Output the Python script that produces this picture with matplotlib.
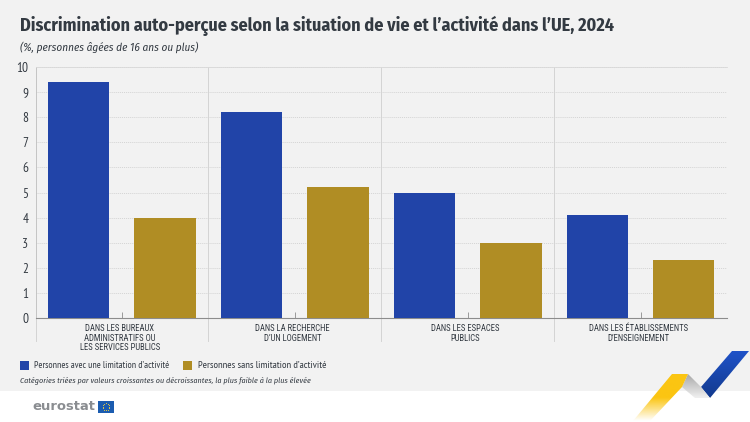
import matplotlib
matplotlib.use('Agg')
import matplotlib.pyplot as plt
import matplotlib.font_manager as fm
from matplotlib.colors import LinearSegmentedColormap
from matplotlib.patches import Polygon, Rectangle
import numpy as np

categories = ['DANS LES BUREAUX\nADMINISTRATIFS OU\nLES SERVICES PUBLICS',
              'DANS LA RECHERCHE\nD\u2019UN LOGEMENT',
              'DANS LES ESPACES\nPUBLICS',
              'DANS LES \u00c9TABLISSEMENTS\nD\u2019ENSEIGNEMENT']
with_limit = [9.4, 8.2, 5.0, 4.1]
without_limit = [4.0, 5.2, 3.0, 2.3]
yticks = list(range(0, 11))

title = 'Discrimination auto-per\u00e7ue selon la situation de vie et l\u2019activit\u00e9 dans l\u2019UE, 2024'
subtitle = '(%, personnes \u00e2g\u00e9es de 16 ans ou plus)'
note = 'Cat\u00e9gories tri\u00e9es par valeurs croissantes ou d\u00e9croissantes, la plus faible \u00e0 la plus \u00e9lev\u00e9e'
label_with = 'Personnes avec une limitation d\u2019activit\u00e9'
label_without = 'Personnes sans limitation d\u2019activit\u00e9'

BLUE = '#2144a8'
GOLD = '#b08d24'
BG = '#f2f2f2'
TEXT = '#333a42'

# condensed faces if there are any, the sizes get fitted below anyway
names = {f.name for f in fm.fontManager.ttflist}


def first_font(options):
    for n in options:
        if n in names:
            return n
    return 'Lato'


main_font = first_font(['Fira Sans Condensed', 'Roboto Condensed', 'PT Sans Narrow'])
small_font = first_font(['PT Sans Narrow', 'Roboto Condensed', 'Fira Sans Condensed'])
cat_font = first_font(['Roboto Condensed', 'Fira Sans Condensed', 'PT Sans Narrow'])
plt.rcParams['font.family'] = [small_font, 'DejaVu Sans']

W, H = 750, 422
fig = plt.figure(figsize=(W / 100, H / 100), dpi=100, facecolor='white')
renderer = fig.canvas.get_renderer()


def fit(txt, width):
    # scale the font so the text is as wide as in the reference
    w = txt.get_window_extent(renderer).width
    txt.set_fontsize(txt.get_fontsize() * width / w)


def ribbon(points, colors, box):
    cmap = LinearSegmentedColormap.from_list('r', colors)
    grad = np.linspace(0, 1, 64).reshape(-1, 1)
    im = bg.imshow(grad, cmap=cmap, extent=box, aspect='auto', zorder=2)
    im.set_clip_path(Polygon(points, transform=bg.transData))


# page background and decorations, in pixel coordinates
bg = fig.add_axes([0, 0, 1, 1])
bg.add_patch(Rectangle((0, 0), W, 391, color=BG, lw=0))

# ribbon logo bottom right
ribbon([(732, 351), (749, 351), (710, 398), (701, 387)], ['#1f52c8', '#123a8e'], (700, 750, 398, 351))
ribbon([(688, 374), (701, 387), (710, 398), (695, 398), (682, 387)], ['#a8a8a8', '#f0f0f0'], (680, 710, 398, 374))
ribbon([(672, 374), (688, 374), (682, 387), (650, 421), (633, 421)], ['#fbc512', '#fbc512', '#ffffff'], (630, 690, 421, 374))

bg.set_xlim(0, W)
bg.set_ylim(H, 0)
bg.axis('off')

# eurostat wordmark and flag
logo = bg.text(32, 407, 'eurostat', family='DejaVu Sans', fontsize=11, fontweight='bold',
               color='#8a8d91', va='center', ha='left')
fit(logo, 63)
bg.add_patch(Rectangle((98, 401), 16, 11.5, color='#1b5cb0', lw=0))
star_a = np.linspace(0, 2 * np.pi, 12, endpoint=False)
bg.scatter(106 + 3.4 * np.cos(star_a), 406.7 + 3.4 * np.sin(star_a), s=0.6, color='#f4d23c', lw=0)

ax = fig.add_axes([35.5 / W, 1 - 318 / H, (727 - 35.5) / W, (318 - 67) / H])
ax.set_facecolor('none')

x = np.arange(len(categories))
ax.bar(x - 0.25, with_limit, 0.355, color=BLUE, zorder=3)
ax.bar(x + 0.25, without_limit, 0.355, color=GOLD, zorder=3)

ax.set_xlim(-0.5, 3.5)
ax.set_ylim(0, 10)
ax.set_yticks(yticks)
ax.set_yticklabels([str(v) for v in yticks], fontsize=9.5, color=TEXT)
ax.grid(axis='y', color='#d4d4d4', lw=0.7, ls=(0, (1, 1)), zorder=0)
ax.spines['right'].set_visible(False)
ax.spines['top'].set_color('#d9d9d9')
ax.spines['top'].set_linewidth(0.6)
ax.spines['left'].set_color('#c4c4c4')
ax.spines['left'].set_linewidth(0.7)
ax.spines['bottom'].set_color('#8c8c8c')
ax.spines['bottom'].set_linewidth(0.8)
ax.tick_params(axis='y', length=0, pad=5)

# small centre ticks and long separators between the categories
ax.set_xticks(x)
ax.set_xticklabels([])
ax.tick_params(axis='x', direction='in', length=4, width=0.6, color='#8c8c8c')
for sep in x[:-1] + 0.5:
    ax.axvline(sep, color='#d4d4d4', lw=0.7, zorder=1)
for sep in [-0.5, 0.5, 1.5, 2.5]:
    ax.plot([sep, sep], [0, -0.09], transform=ax.get_xaxis_transform(), color='#d4d4d4',
            lw=0.7, clip_on=False)

cat_texts = []
for xi, c in zip(x, categories):
    cat_texts.append(ax.annotate(c, (xi, 0), xycoords=('data', 'axes fraction'), xytext=(-1.5, -4.5),
                                 textcoords='offset points', ha='center', va='top', fontsize=7.5,
                                 family=cat_font, color=TEXT, linespacing=1.05))
fit(cat_texts[3], 99)
for t in cat_texts[:3]:
    t.set_fontsize(cat_texts[3].get_fontsize())

t = bg.text(20, 26, title, family=main_font, fontsize=15, fontweight='bold', color=TEXT, va='center', ha='left')
fit(t, 597)
t = bg.text(20, 47.5, subtitle, family=main_font, fontsize=8, style='italic', color=TEXT, va='center', ha='left')
fit(t, 178)

bg.add_patch(Rectangle((20, 361), 8.5, 8.5, color=BLUE, lw=0))
t = bg.text(33.5, 365.5, label_with, fontsize=7.5, color=TEXT, va='center', ha='left')
fit(t, 133)
bg.add_patch(Rectangle((183, 361), 8.5, 8.5, color=GOLD, lw=0))
t = bg.text(197.5, 365.5, label_without, fontsize=7.5, color=TEXT, va='center', ha='left')
fit(t, 127)
t = bg.text(20, 381, note, family=main_font, fontsize=6.7, style='italic', color=TEXT, va='center', ha='left')
fit(t, 290)

fig.savefig('out.png', dpi=100)
